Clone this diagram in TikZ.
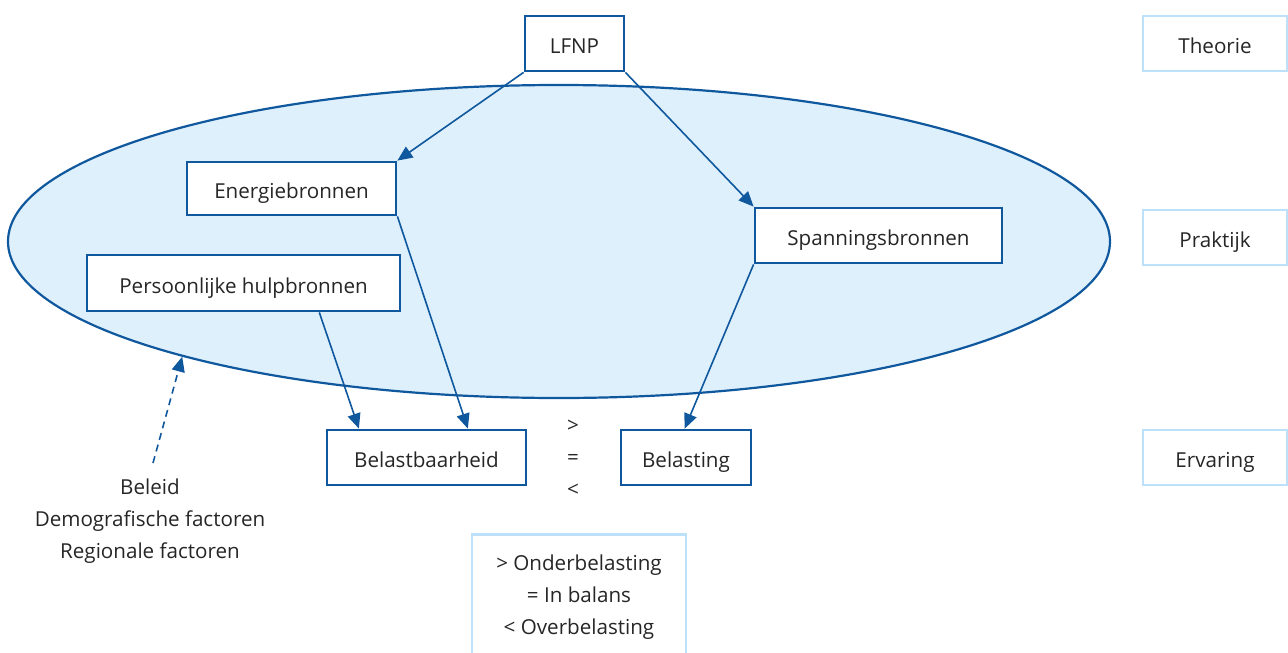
\documentclass[tikz,border=0pt]{standalone}
\usepackage{fontspec}
\setmainfont{Open Sans}
\usetikzlibrary{arrows.meta,calc,shapes.geometric}
\definecolor{dblue}{RGB}{16,88,158}
\definecolor{lblue}{RGB}{190,225,251}
\definecolor{efill}{RGB}{222,240,252}
\definecolor{txt}{RGB}{38,38,38}
\begin{document}
\begin{tikzpicture}[x=1pt,y=-1pt,
  every node/.style={font=\fontsize{20.6}{32}\selectfont, text=txt, inner sep=0pt},
  dbox/.style={draw=dblue, line width=2.8pt, fill=white, text height=20pt, text depth=0pt},
  lbox/.style={draw=lblue, line width=2.8pt, fill=white, text height=20pt, text depth=0pt},
  arr/.style={draw=dblue, line width=1.6pt, -{Triangle[length=15pt,width=13pt]}},
  ]
\useasboundingbox (0,0) rectangle (1288,653);
% ellipse
\node[draw=dblue, line width=2.2pt, fill=efill, ellipse, minimum width=1102pt, minimum height=313pt, inner sep=0pt] (ell) at (559,241.5) {};
% boxes
\node[dbox, minimum width=99pt, minimum height=55pt] (lfnp) at (574.5,43.5) {LFNP};
\node[dbox, minimum width=209pt, minimum height=53pt] (ener) at (291.5,188.5) {Energiebronnen};
\node[dbox, minimum width=247pt, minimum height=55pt] (span) at (878.5,235.5) {Spanningsbronnen};
\node[dbox, minimum width=313pt, minimum height=56pt] (pers) at (243.5,283) {Persoonlijke hulpbronnen};
\node[dbox, minimum width=199pt, minimum height=55pt] (bb) at (426.5,457.5) {Belastbaarheid};
\node[dbox, minimum width=130pt, minimum height=55pt] (bel) at (686,457.5) {Belasting};
\node[lbox, minimum width=144pt, minimum height=55pt] (theo) at (1215,43.5) {Theorie};
\node[lbox, minimum width=144pt, minimum height=55pt] (prak) at (1215,237.5) {Praktijk};
\node[lbox, minimum width=144pt, minimum height=55pt] (erv) at (1215,457.5) {Ervaring};
\node[lbox, minimum width=214pt, minimum height=140pt, anchor=north] (leg) at (579,533) {};
\node[align=center] (legt) at (579,597) {> Onderbelasting\\= In balans\\< Overbelasting};
\node[align=center] (cmp) at (573,458) {>\\=\\<};
\node[align=center] (fac) at (150,521) {Beleid\\Demografische factoren\\Regionale factoren};
% connectors
\draw[arr] (lfnp.south west) -- (ener.north east);
\draw[arr] (lfnp.south east) -- (span.north west);
\draw[arr] (ener.south east) -- ($(bb.north west)!0.705!(bb.north east)$);
\draw[arr] ($(pers.south west)!0.74!(pers.south east)$) -- ($(bb.north west)!0.165!(bb.north east)$);
\draw[arr] (span.south west) -- ($(bel.north west)!0.49!(bel.north east)$);
\coordinate (fa) at (153,463);
\draw[arr, dash pattern=on 7pt off 5pt] (fa) -- (ell.197);
\end{tikzpicture}
\end{document}
